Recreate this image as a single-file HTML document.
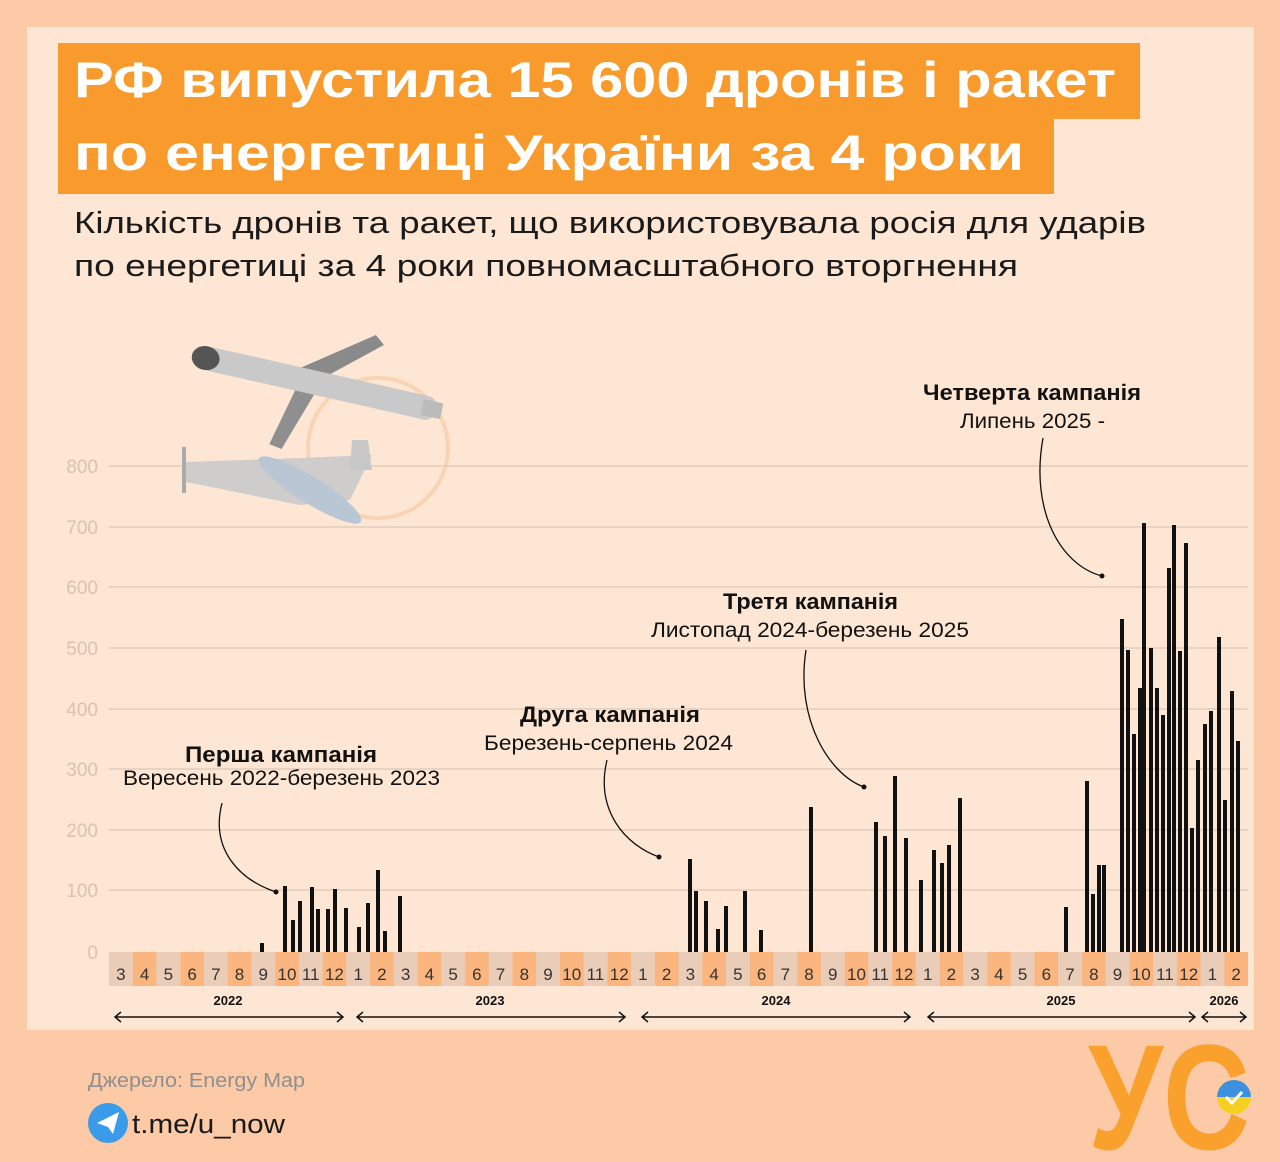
<!DOCTYPE html>
<html><head><meta charset="utf-8"><style>
html,body{margin:0;padding:0;background:#fccaa6;}
svg{display:block;}
text{font-family:"Liberation Sans",sans-serif;}
</style></head><body>
<svg width="1280" height="1162" viewBox="0 0 1280 1162" xmlns="http://www.w3.org/2000/svg">
<defs>
<pattern id="cells" x="109" y="0" width="47.458" height="1162" patternUnits="userSpaceOnUse">
<rect x="0" y="0" width="23.73" height="1162" fill="#e9cdb8"/>
<rect x="23.73" y="0" width="23.73" height="1162" fill="#fbb57f"/>
</pattern>
</defs>
<rect x="0" y="0" width="1280" height="1162" fill="#fccaa6"/>
<rect x="27" y="27" width="1227" height="1003" fill="#fde6d4"/>
<!-- title -->
<rect x="58" y="43" width="1082" height="76" fill="#f89a2c"/>
<rect x="58" y="118" width="996" height="76" fill="#f89a2c"/>
<text x="74" y="97" font-size="50" font-weight="bold" fill="#fff" textLength="1042" lengthAdjust="spacingAndGlyphs">РФ випустила 15 600 дронів і ракет</text>
<text x="74" y="170" font-size="50" font-weight="bold" fill="#fff" textLength="950" lengthAdjust="spacingAndGlyphs">по енергетиці України за 4 роки</text>
<text x="74" y="233" font-size="31" fill="#1a1a1a" textLength="1072" lengthAdjust="spacingAndGlyphs">Кількість дронів та ракет, що використовувала росія для ударів</text>
<text x="74" y="276" font-size="31" fill="#1a1a1a" textLength="944" lengthAdjust="spacingAndGlyphs">по енергетиці за 4 роки повномасштабного вторгнення</text>
<!-- watermark -->
<circle cx="378" cy="448" r="70" fill="none" stroke="#f8d3b4" stroke-width="4"/>
<!-- gridlines -->
<g stroke="#dcc6b6" stroke-width="1.2">
<line x1="109" y1="466" x2="1248" y2="466"/><line x1="109" y1="527" x2="1248" y2="527"/>
<line x1="109" y1="587" x2="1248" y2="587"/><line x1="109" y1="648" x2="1248" y2="648"/>
<line x1="109" y1="709" x2="1248" y2="709"/><line x1="109" y1="769" x2="1248" y2="769"/>
<line x1="109" y1="830" x2="1248" y2="830"/><line x1="109" y1="890" x2="1248" y2="890"/>
</g>
<g font-size="19" fill="#d7c2b4" text-anchor="end">
<text x="98" y="473">800</text><text x="98" y="534">700</text><text x="98" y="594">600</text>
<text x="98" y="655">500</text><text x="98" y="716">400</text><text x="98" y="776">300</text>
<text x="98" y="837">200</text><text x="98" y="897">100</text><text x="98" y="959">0</text>
</g>
<!-- missile -->
<g transform="translate(192,355) rotate(12.7)">
<polygon points="100,-5 175,-60 185,-52 120,5" fill="#8a8a8a"/>
<polygon points="110,5 95,70 108,72 130,5" fill="#8f8f8f"/>
<rect x="10" y="-12" width="240" height="24" rx="10" fill="#c9c9c9"/>
<ellipse cx="14" cy="0" rx="14" ry="12" fill="#555"/>
<rect x="236" y="-8" width="20" height="16" fill="#bbb"/>
</g>
<!-- drone -->
<polygon points="186,462 300,458 372,455 350,500 300,505 186,482" fill="#cfcccc"/>
<rect x="182" y="447" width="4" height="46" fill="#aaa"/>
<polygon points="352,440 368,440 372,470 350,470" fill="#c8c8c8"/>
<ellipse cx="310" cy="490" rx="60" ry="13" transform="rotate(32 310 490)" fill="#b9c6d4"/>
<!-- bars -->
<g fill="#111">
<rect x="260" y="943" width="4" height="9"/>
<rect x="283" y="886" width="4" height="66"/><rect x="291" y="920" width="4" height="32"/><rect x="298" y="901" width="4" height="51"/>
<rect x="310" y="887" width="4" height="65"/><rect x="316" y="909" width="4" height="43"/><rect x="326" y="909" width="4" height="43"/>
<rect x="333" y="889" width="4" height="63"/><rect x="344" y="908" width="4" height="44"/>
<rect x="357" y="927" width="4" height="25"/><rect x="366" y="903" width="4" height="49"/><rect x="376" y="870" width="4" height="82"/>
<rect x="383" y="931" width="4" height="21"/><rect x="398" y="896" width="4" height="56"/>
<rect x="688" y="859" width="4" height="93"/><rect x="694" y="891" width="4" height="61"/><rect x="704" y="901" width="4" height="51"/>
<rect x="716" y="929" width="4" height="23"/><rect x="724" y="906" width="4" height="46"/><rect x="743" y="891" width="4" height="61"/>
<rect x="759" y="930" width="4" height="22"/><rect x="809" y="807" width="4" height="145"/>
<rect x="874" y="822" width="4" height="130"/><rect x="883" y="836" width="4" height="116"/><rect x="893" y="776" width="4" height="176"/>
<rect x="904" y="838" width="4" height="114"/><rect x="919" y="880" width="4" height="72"/><rect x="932" y="850" width="4" height="102"/>
<rect x="940" y="863" width="4" height="89"/><rect x="947" y="845" width="4" height="107"/><rect x="958" y="798" width="4" height="154"/>
<rect x="1064" y="907" width="4" height="45"/><rect x="1085" y="781" width="4" height="171"/><rect x="1091" y="894" width="4" height="58"/>
<rect x="1097" y="865" width="4" height="87"/><rect x="1102" y="865" width="4" height="87"/>
<rect x="1120" y="619" width="4" height="333"/><rect x="1126" y="650" width="4" height="302"/><rect x="1132" y="734" width="4" height="218"/>
<rect x="1138" y="688" width="4" height="264"/><rect x="1142" y="523" width="4" height="429"/><rect x="1149" y="648" width="4" height="304"/>
<rect x="1155" y="688" width="4" height="264"/><rect x="1161" y="715" width="4" height="237"/><rect x="1167" y="568" width="4" height="384"/>
<rect x="1172" y="525" width="4" height="427"/><rect x="1178" y="651" width="4" height="301"/><rect x="1184" y="543" width="4" height="409"/>
<rect x="1190" y="828" width="4" height="124"/><rect x="1196" y="760" width="4" height="192"/><rect x="1203" y="724" width="4" height="228"/>
<rect x="1209" y="711" width="4" height="241"/><rect x="1217" y="637" width="4" height="315"/><rect x="1223" y="800" width="4" height="152"/>
<rect x="1230" y="691" width="4" height="261"/><rect x="1236" y="741" width="4" height="211"/>
</g>
<!-- month strip -->
<rect x="109" y="952" width="1139" height="34" fill="url(#cells)"/>
<g font-size="17" fill="#333" text-anchor="middle">
<text x="120.9" y="980">3</text><text x="144.6" y="980">4</text><text x="168.3" y="980">5</text><text x="192.1" y="980">6</text>
<text x="215.8" y="980">7</text><text x="239.5" y="980">8</text><text x="263.2" y="980">9</text><text x="287.0" y="980">10</text>
<text x="310.7" y="980">11</text><text x="334.4" y="980">12</text>
<text x="358.2" y="980">1</text><text x="381.9" y="980">2</text><text x="405.6" y="980">3</text><text x="429.3" y="980">4</text>
<text x="453.1" y="980">5</text><text x="476.8" y="980">6</text><text x="500.5" y="980">7</text><text x="524.3" y="980">8</text>
<text x="548.0" y="980">9</text><text x="571.7" y="980">10</text><text x="595.4" y="980">11</text><text x="619.2" y="980">12</text>
<text x="642.9" y="980">1</text><text x="666.6" y="980">2</text><text x="690.4" y="980">3</text><text x="714.1" y="980">4</text>
<text x="737.8" y="980">5</text><text x="761.6" y="980">6</text><text x="785.3" y="980">7</text><text x="809.0" y="980">8</text>
<text x="832.7" y="980">9</text><text x="856.5" y="980">10</text><text x="880.2" y="980">11</text><text x="903.9" y="980">12</text>
<text x="927.7" y="980">1</text><text x="951.4" y="980">2</text><text x="975.1" y="980">3</text><text x="998.8" y="980">4</text>
<text x="1022.6" y="980">5</text><text x="1046.3" y="980">6</text><text x="1070.0" y="980">7</text><text x="1093.8" y="980">8</text>
<text x="1117.5" y="980">9</text><text x="1141.2" y="980">10</text><text x="1164.9" y="980">11</text><text x="1188.7" y="980">12</text>
<text x="1212.4" y="980">1</text><text x="1236.1" y="980">2</text>
</g>
<!-- years -->
<g font-size="13" font-weight="bold" fill="#111" text-anchor="middle">
<text x="228" y="1005">2022</text><text x="490" y="1005">2023</text><text x="776" y="1005">2024</text>
<text x="1061" y="1005">2025</text><text x="1224" y="1005">2026</text>
</g>
<g stroke="#111" stroke-width="1.5" fill="none">
<path d="M115 1017H343M121 1012l-6 5 6 5M337 1012l6 5-6 5"/>
<path d="M357 1017H625M363 1012l-6 5 6 5M619 1012l6 5-6 5"/>
<path d="M642 1017H910M648 1012l-6 5 6 5M904 1012l6 5-6 5"/>
<path d="M928 1017H1195M934 1012l-6 5 6 5M1189 1012l6 5-6 5"/>
<path d="M1202 1017H1246M1208 1012l-6 5 6 5M1240 1012l6 5-6 5"/>
</g>
<!-- annotations -->
<g fill="#111">
<text x="185" y="762" font-size="22" font-weight="bold" textLength="192" lengthAdjust="spacingAndGlyphs">Перша кампанія</text>
<text x="123" y="785" font-size="21" textLength="317" lengthAdjust="spacingAndGlyphs">Вересень 2022-березень 2023</text>
<text x="520" y="722" font-size="22" font-weight="bold" textLength="180" lengthAdjust="spacingAndGlyphs">Друга кампанія</text>
<text x="484" y="750" font-size="21" textLength="249" lengthAdjust="spacingAndGlyphs">Березень-серпень 2024</text>
<text x="723" y="609" font-size="22" font-weight="bold" textLength="175" lengthAdjust="spacingAndGlyphs">Третя кампанія</text>
<text x="651" y="637" font-size="21" textLength="318" lengthAdjust="spacingAndGlyphs">Листопад 2024-березень 2025</text>
<text x="923" y="400" font-size="22" font-weight="bold" textLength="218" lengthAdjust="spacingAndGlyphs">Четверта кампанія</text>
<text x="960" y="428" font-size="21" textLength="145" lengthAdjust="spacingAndGlyphs">Липень 2025 -</text>
</g>
<g stroke="#111" stroke-width="1.3" fill="none">
<path d="M222 803C210 850 240 880 276 892"/>
<path d="M607 760C595 810 625 845 659 857"/>
<path d="M806 650C795 720 830 775 864 787"/>
<path d="M1043 438C1030 510 1060 565 1102 576"/>
</g>
<g fill="#111"><circle cx="276" cy="892" r="2.5"/><circle cx="659" cy="857" r="2.5"/><circle cx="864" cy="787" r="2.5"/><circle cx="1102" cy="576" r="2.5"/></g>
<!-- footer -->
<text x="88" y="1087" font-size="20" fill="#8f8f8f" textLength="217" lengthAdjust="spacingAndGlyphs">Джерело: Energy Map</text>
<circle cx="108" cy="1123" r="20" fill="#3a9be8"/>
<polygon points="97,1123 119,1112 113,1134 108,1127" fill="#fff"/>
<text x="132" y="1133" font-size="27" fill="#1a1a1a" textLength="153" lengthAdjust="spacingAndGlyphs">t.me/u_now</text>
<text x="1088" y="1149" font-size="150" font-weight="bold" fill="#f9a02d" textLength="162" lengthAdjust="spacingAndGlyphs">УС</text>
<circle cx="1234" cy="1097" r="17" fill="#f5d020"/>
<path d="M1217 1097a17 17 0 0 1 34 0z" fill="#3d8fe0"/>
<path d="M1226 1097l6 6 10-11" stroke="#fff" stroke-width="3" fill="none"/>
</svg>
</body></html>
